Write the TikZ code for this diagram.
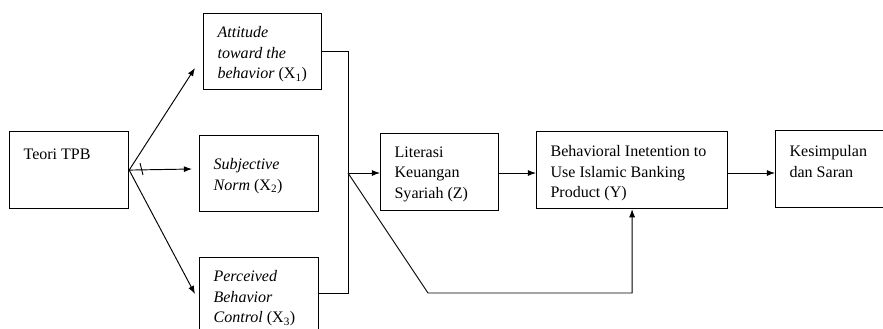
\documentclass[tikz,border=0pt]{standalone}
\usepackage{fontspec}
\setmainfont{Liberation Serif}
\usetikzlibrary{calc}
\usetikzlibrary{arrows.meta}

\newlength{\pxu}
\setlength{\pxu}{0.3333mm}
% width, height, drop, text
\newcommand{\boxtext}[4]{\parbox[t][#2\pxu][t]{#1\pxu}{\raggedright\vspace*{#3\pxu}#4}}

\tikzset{
    box/.style={draw, line width=1.1pt, anchor=north west, inner xsep=4.667mm, inner ysep=4.333mm,
        font=\fontsize{15.2}{19.5}\selectfont},
    link/.style={line width=0.9pt},
    arr/.style={link, -{Latex[length=2.7mm,width=2mm]}}
}

\begin{document}
\begin{tikzpicture}[x=0.3333mm, y=-0.3333mm]
\useasboundingbox (0,0) rectangle (883,328);

\coordinate (mid) at (348,173);
\coordinate (ta) at (195,68);
\coordinate (tb) at (192,169);
\coordinate (tc) at (195,294);
\coordinate (bend) at (428,293);

\node[box] (tpb) at (9,131) {\boxtext{91}{51}{4}{Teori TPB}};
\node[box] (x1) at (203,13) {\boxtext{90}{50}{0}{\textit{Attitude}\\ \textit{toward the}\\ \textit{behavior} (X\textsubscript{1})}};
\node[box] (x2) at (199,135) {\boxtext{91}{50}{10}{\textit{Subjective}\\ \textit{Norm} (X\textsubscript{2})}};
\node[box] (x3) at (199,257) {\boxtext{91}{46}{0}{\textit{Perceived}\\ \textit{Behavior}\\ \textit{Control} (X\textsubscript{3})}};
\node[box] (z) at (380,133) {\boxtext{90}{51}{0}{Literasi\\ Keuangan\\ Syariah (Z)}};
\node[box] (y) at (536,131) {\boxtext{163}{51}{1}{Behavioral Inetention to\\ Use Islamic Banking\\ Product (Y)}};
\node[box] (k) at (775,130) {\boxtext{87}{51}{2}{Kesimpulan\\ dan Saran}};

\draw[arr] (tpb.east) -- (ta);
\draw[arr] (tpb.east) -- (tb);
\draw[arr] (tpb.east) -- (tc);
\draw[link] (140,163) -- (143,175);

\draw[link] (x1.east) -- (x1.east -| mid) -- (x3.east -| mid) -- (x3.east);
\draw[arr] (mid) -- (mid -| z.west);
\draw[arr] (mid) -- (bend) -| (y.south);
\draw[arr] (mid -| z.east) -- (mid -| y.west);
\draw[arr] (mid -| y.east) -- (mid -| k.west);
\end{tikzpicture}
\end{document}
